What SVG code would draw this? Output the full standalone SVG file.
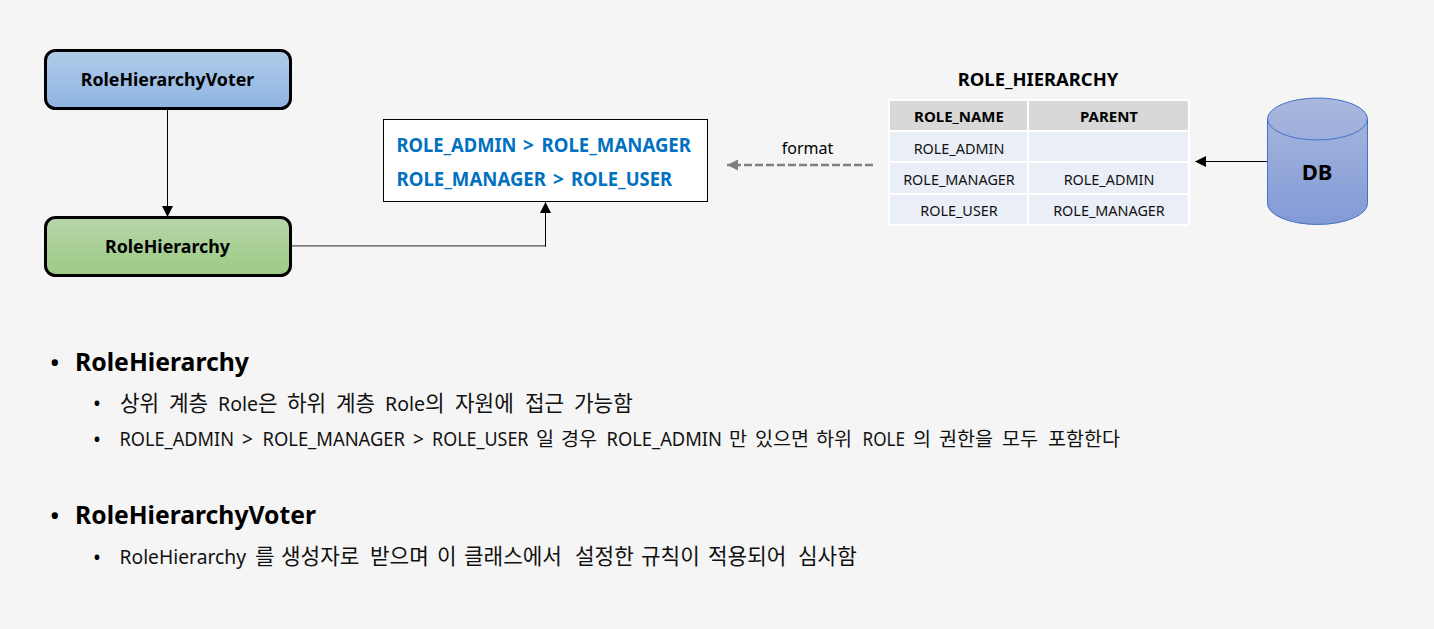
<svg xmlns="http://www.w3.org/2000/svg" width="1434" height="629" viewBox="0 0 1434 629">
<style>
text{font-family:"Noto Sans","Noto Sans CJK KR",sans-serif;fill:#000}
.b{font-weight:700}
.n{stroke:#000;stroke-width:3}
.m{text-anchor:middle}
.c{font-size:14.4px;text-anchor:middle;fill:#111}
.h{font-size:15px;font-weight:700;text-anchor:middle}
.blue{font-size:19px;font-weight:700;fill:#0070c0}
.t1{font-size:24.500px;font-weight:700}
.k{font-size:21.300px;fill:#111}
.j{font-size:19.600px;fill:#111}
.l1{font-size:20.500px}
.l2{font-size:19px}
</style>
<defs>
<linearGradient id="gb" x1="0" y1="0" x2="0" y2="1"><stop offset="0" stop-color="#b0cbe9"/><stop offset="1" stop-color="#8fb4e2"/></linearGradient>
<linearGradient id="gg" x1="0" y1="0" x2="0" y2="1"><stop offset="0" stop-color="#b6d5a8"/><stop offset="1" stop-color="#9dca85"/></linearGradient>
<linearGradient id="gd" x1="0" y1="0" x2="0" y2="1"><stop offset="0" stop-color="#a9b8de"/><stop offset="1" stop-color="#829ad6"/></linearGradient>
<marker id="ak" markerUnits="userSpaceOnUse" markerWidth="12" markerHeight="12" refX="10.500" refY="5.500" orient="auto"><path d="M0 0L11 5.500L0 11Z" fill="#000"/></marker>
<marker id="ag" markerUnits="userSpaceOnUse" markerWidth="12" markerHeight="12" refX="11" refY="5.500" orient="auto"><path d="M0 0L11 5.500L0 11Z" fill="#7f7f7f"/></marker>
</defs>
<rect width="1434" height="629" fill="#f5f5f5"/>
<g id="connectors" fill="none">
<path d="M167.500 109V216.500" stroke="#000" stroke-width="1" marker-end="url(#ak)"/>
<path d="M291 245.800H546" stroke="#7f7f7f" stroke-width="1.700"/>
<path d="M545.500 246.500V202.500" stroke="#000" stroke-width="1" marker-end="url(#ak)"/>
<path d="M873 165H727" stroke="#7f7f7f" stroke-width="2.500" stroke-dasharray="8 3" marker-end="url(#ag)"/>
<path d="M1268 161.500H1195.500" stroke="#000" stroke-width="1" marker-end="url(#ak)"/>
</g>
<g id="role-hierarchy-voter">
<rect class="n" x="45.500" y="50.500" width="245" height="58" rx="10" fill="url(#gb)"/>
<text class="b m" x="167.500" y="86" font-size="17.800">RoleHierarchyVoter</text>
</g>
<g id="role-hierarchy">
<rect class="n" x="45.500" y="217.500" width="245" height="58" rx="10" fill="url(#gg)"/>
<text class="b m" x="167.500" y="253" font-size="17.800">RoleHierarchy</text>
</g>
<g id="format-box">
<rect x="383.500" y="119.500" width="324" height="82" fill="#fff" stroke="#000"/>
<text class="blue" y="152"><tspan x="396.500" textLength="120" lengthAdjust="spacingAndGlyphs">ROLE_ADMIN</tspan> <tspan x="523">&gt;</tspan> <tspan x="541.500" textLength="149.500" lengthAdjust="spacingAndGlyphs">ROLE_MANAGER</tspan></text>
<text class="blue" y="186"><tspan x="396.500" textLength="149.500" lengthAdjust="spacingAndGlyphs">ROLE_MANAGER</tspan> <tspan x="553">&gt;</tspan> <tspan x="571" textLength="101" lengthAdjust="spacingAndGlyphs">ROLE_USER</tspan></text>
</g>
<g id="format-label"><text class="m" x="807.500" y="154" font-size="16">format</text></g>
<g id="role-table">
<text class="b m" x="1038" y="86" font-size="18.400">ROLE_HIERARCHY</text>
<rect x="888" y="99" width="302" height="127" fill="#fff"/>
<rect x="890" y="101" width="137" height="29" fill="#d8d8d8"/>
<rect x="1029" y="101" width="159" height="29" fill="#d8d8d8"/>
<rect x="890" y="132" width="137" height="29" fill="#e9eef7"/>
<rect x="1029" y="132" width="159" height="29" fill="#e9eef7"/>
<rect x="890" y="163" width="137" height="30" fill="#e9eef7"/>
<rect x="1029" y="163" width="159" height="30" fill="#e9eef7"/>
<rect x="890" y="195" width="137" height="29" fill="#e9eef7"/>
<rect x="1029" y="195" width="159" height="29" fill="#e9eef7"/>
<text class="h" x="959" y="121.500">ROLE_NAME</text>
<text class="h" x="1109" y="121.500">PARENT</text>
<text class="c" x="959" y="153.500">ROLE_ADMIN</text>
<text class="c" x="959" y="185">ROLE_MANAGER</text>
<text class="c" x="1109" y="185">ROLE_ADMIN</text>
<text class="c" x="959" y="216">ROLE_USER</text>
<text class="c" x="1109" y="216">ROLE_MANAGER</text>
</g>
<g id="db">
<path d="M1267.500 119A50 21 0 0 1 1367.500 119V203.500A50 21 0 0 1 1267.500 203.500Z" fill="url(#gd)" stroke="#4472c4"/>
<path d="M1267.500 119A50 21 0 0 0 1367.500 119" fill="none" stroke="#4472c4"/>
<text class="b m" x="1317" y="180" font-size="22">DB</text>
</g>
<g id="notes">
<text x="49.500" y="373" font-size="28">•</text>
<text class="t1" x="75" y="371" textLength="174" lengthAdjust="spacingAndGlyphs">RoleHierarchy</text>
<text x="93" y="411" font-size="21">•</text>
<text x="93" y="447" font-size="21">•</text>
<text class="k" y="410.500"><tspan x="120">상위</tspan> <tspan x="169">계층</tspan> <tspan class="l1" x="218" textLength="40" lengthAdjust="spacingAndGlyphs">Role</tspan><tspan x="258">은</tspan> <tspan x="287">하위</tspan> <tspan x="336">계층</tspan> <tspan class="l1" x="385" textLength="40" lengthAdjust="spacingAndGlyphs">Role</tspan><tspan x="425">의</tspan> <tspan x="455">자원에</tspan> <tspan x="525">접근</tspan> <tspan x="574">가능함</tspan></text>
<text class="j" y="446"><tspan class="l2" x="119.500" textLength="114.500" lengthAdjust="spacingAndGlyphs">ROLE_ADMIN</tspan> <tspan class="l2" x="242">&gt;</tspan> <tspan class="l2" x="262.500" textLength="142.500" lengthAdjust="spacingAndGlyphs">ROLE_MANAGER</tspan> <tspan class="l2" x="413">&gt;</tspan> <tspan class="l2" x="432" textLength="96.500" lengthAdjust="spacingAndGlyphs">ROLE_USER</tspan> <tspan x="536">일</tspan> <tspan x="561">경우</tspan> <tspan class="l2" x="606.500" textLength="115.500" lengthAdjust="spacingAndGlyphs">ROLE_ADMIN</tspan> <tspan x="729">만</tspan> <tspan x="755">있으면</tspan> <tspan x="816">하위</tspan> <tspan class="l2" x="862.500" textLength="42.500" lengthAdjust="spacingAndGlyphs">ROLE</tspan> <tspan x="913">의</tspan> <tspan x="939">권한을</tspan> <tspan x="1002">모두</tspan> <tspan x="1048">포함한다</tspan></text>
<text x="49.500" y="526" font-size="28">•</text>
<text class="t1" x="75" y="524" textLength="241" lengthAdjust="spacingAndGlyphs">RoleHierarchyVoter</text>
<text x="93" y="565" font-size="21">•</text>
<text class="k" y="564"><tspan class="l1" x="119.500" textLength="126.500" lengthAdjust="spacingAndGlyphs">RoleHierarchy</tspan> <tspan x="255">를</tspan> <tspan x="281">생성자로</tspan> <tspan x="370">받으며</tspan> <tspan x="437">이</tspan> <tspan x="464">클래스에서</tspan> <tspan x="575">설정한</tspan> <tspan x="641">규칙이</tspan> <tspan x="708">적용되어</tspan> <tspan x="798">심사함</tspan></text>
</g>
</svg>
